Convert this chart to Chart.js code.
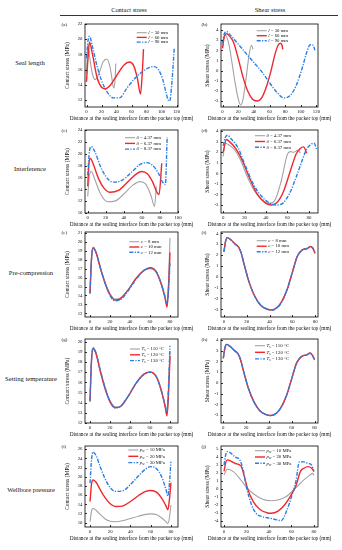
<!DOCTYPE html>
<html>
<head>
<meta charset="utf-8">
<script src="https://cdn.jsdelivr.net/npm/chart.js@4.4.0/dist/chart.umd.min.js"></script>
<style>
  body { margin: 0; background: #fff; width: 342px; height: 550px; position: relative; overflow: hidden; font-family: "Liberation Serif", serif; }
  .t { position: absolute; white-space: nowrap; color: #111; transform: translate(-50%, -50%); }
  canvas { position: absolute; }
  .rule { position: absolute; left: 60px; width: 278px; top: 15px; height: 0; border-top: 0.8px solid #333; }
</style>
</head>
<body>
<div class="t" style="left:129px;top:9px;font-size:6.4px">Contact stress</div>
<div class="t" style="left:270px;top:9px;font-size:6.4px">Shear stress</div>
<div class="rule"></div>
<div class="t" style="left:30px;top:62px;font-size:6.6px">Seal length</div>
<div class="t" style="left:30px;top:168px;font-size:6.6px">Interference</div>
<div class="t" style="left:31px;top:272px;font-size:6.6px">Pre-compression</div>
<div class="t" style="left:31px;top:378px;font-size:6.6px">Setting temperature</div>
<div class="t" style="left:31px;top:489px;font-size:6.6px">Wellbore pressure</div>

<script>
// ---- data ----
// (a) seal length, contact stress
const a30x = [0, 2, 4, 8, 12, 17, 22, 27, 31, 34, 36, 38, 39];
const a30y = [15.5, 19.3, 17.8, 15.4, 14.7, 15.6, 17.0, 17.4, 16.5, 14.8, 13.6, 14.5, 16.8];
const a60x = [0, 2, 4, 8, 14, 20, 25, 32, 40, 50, 57, 63, 68, 72, 74, 76];
const a60y = [14.4, 17.5, 19.6, 18.0, 15.0, 13.7, 13.5, 14.0, 15.2, 16.6, 17.0, 16.5, 14.8, 12.8, 15.0, 18.7];
const a90x = [0, 2, 4, 8, 14, 20, 28, 36, 44, 54, 64, 74, 84, 90, 96, 102, 106, 109, 111, 114, 117];
const a90y = [17.5, 19.8, 20.4, 19.0, 16.5, 14.6, 13.0, 12.3, 12.3, 13.6, 14.8, 15.7, 16.3, 16.4, 16.0, 14.6, 13.0, 12.0, 11.9, 14.5, 18.8];
// (b) seal length, shear stress
const b30x = [0, 2, 4, 8, 12, 16, 20, 23, 26, 30, 34, 37, 39];
const b30y = [2.3, 3.3, 3.5, 2.6, 0.8, -1.2, -2.8, -3.4, -2.9, -0.8, 1.6, 2.5, 2.1];
const b60x = [0, 2, 5, 10, 14, 20, 26, 32, 38, 44, 50, 56, 62, 67, 71, 74, 76, 77];
const b60y = [2.2, 3.3, 3.65, 3.3, 2.8, 1.2, -0.6, -2.0, -2.8, -3.0, -2.7, -1.6, 0.0, 1.6, 2.5, 2.7, 2.5, 2.1];
const b90x = [0, 2, 5, 10, 19, 30, 40, 50, 60, 70, 78, 86, 94, 102, 108, 112, 116, 118];
const b90y = [2.7, 3.6, 3.85, 3.5, 2.7, 1.7, 0.8, -0.1, -1.2, -2.2, -2.7, -2.5, -1.5, 0.3, 1.9, 2.55, 2.5, 2.0];
// (c) interference, contact stress
const c4x = [0, 2, 4, 8, 14, 22, 30, 40, 50, 58, 64, 70, 74, 76];
const c4y = [12.8, 16.5, 17.0, 15.6, 13.3, 11.9, 12.0, 13.2, 14.7, 15.3, 14.9, 13.0, 11.1, 14.5];
const c6x = [0, 1.5, 3, 6, 12, 18, 25, 34, 44, 54, 60, 66, 72, 77, 79, 82];
const c6y = [14.5, 18.5, 19.2, 18.3, 15.8, 14.2, 13.5, 13.8, 15.2, 16.6, 17.0, 16.6, 15.2, 13.4, 13.1, 18.4];
const c8x = [0, 2, 4, 8, 14, 20, 28, 38, 48, 58, 65, 72, 78, 83, 86, 88];
const c8y = [16.4, 20.5, 21.2, 20.3, 17.9, 16.2, 15.2, 15.5, 16.8, 18.2, 18.5, 18.0, 16.8, 15.2, 14.8, 22.8];
// (d) interference, shear stress
const d4x = [0, 2, 5, 10, 16, 22, 30, 38, 43, 48, 54, 60, 63, 66, 70, 72];
const d4y = [1.6, 2.85, 2.7, 2.3, 1.3, -0.2, -1.8, -2.7, -2.85, -2.6, -0.8, 1.8, 2.05, 2.0, 2.2, 1.9];
const d6x = [0, 3, 6, 12, 18, 24, 32, 40, 45, 50, 56, 62, 68, 72, 75, 78];
const d6y = [2.0, 3.2, 3.0, 2.3, 1.2, -0.3, -2.0, -2.85, -3.0, -2.8, -1.8, 0.0, 1.8, 2.35, 2.5, 1.9];
const d8x = [0, 2, 4, 8, 14, 20, 28, 36, 44, 50, 56, 62, 68, 74, 78, 82, 85, 87];
const d8y = [2.6, 3.4, 3.6, 3.2, 2.4, 0.9, -1.0, -2.2, -2.85, -3.0, -2.8, -1.9, -0.4, 1.3, 2.3, 2.75, 2.85, 2.3];
// (e) pre-compression, contact stress
const eX = [0, 1.5, 3, 6, 10, 15, 20, 25, 30, 38, 46, 54, 60, 66, 71, 75, 77, 78.5, 80];
const eY8 = [14.3, 18.2, 19.4, 18.9, 17.3, 15.5, 14.2, 13.6, 13.7, 14.6, 15.9, 16.8, 17.0, 16.6, 15.3, 13.7, 12.9, 15.5, 20.4];
const eY10 = [14.2, 18.1, 19.3, 18.8, 17.2, 15.4, 14.1, 13.5, 13.6, 14.6, 15.9, 16.8, 17.1, 16.7, 15.4, 13.8, 12.7, 14.8, 18.8];
const eY12 = [14.3, 18.0, 19.3, 18.8, 17.2, 15.4, 14.0, 13.4, 13.5, 14.5, 15.8, 16.8, 17.1, 16.7, 15.4, 13.9, 13.1, 14.6, 17.6];
// (f) pre-compression, shear stress
const fX = [0, 1.5, 3, 6, 10, 13, 15, 18, 22, 27, 32, 37, 41, 45, 50, 55, 60, 64, 67, 70, 73, 76, 78, 80];
const fY8 = [2.3, 3.3, 3.6, 3.4, 3.0, 2.7, 2.2, 1.0, -0.5, -1.8, -2.6, -2.95, -3.05, -2.95, -2.4, -1.3, 0.4, 1.8, 2.3, 2.55, 2.6, 2.78, 2.6, 2.15];
const fY10 = [2.3, 3.3, 3.6, 3.4, 3.0, 2.7, 2.2, 1.0, -0.5, -1.8, -2.6, -2.95, -3.05, -2.95, -2.4, -1.3, 0.4, 1.8, 2.3, 2.55, 2.6, 2.78, 2.6, 2.15];
const fY12 = [2.3, 3.3, 3.6, 3.4, 3.0, 2.7, 2.25, 1.05, -0.45, -1.8, -2.6, -2.95, -3.08, -3.0, -2.45, -1.3, 0.4, 1.8, 2.3, 2.5, 2.6, 2.75, 2.65, 2.15];
// (g) setting temperature, contact stress
const gX = [0, 1.5, 3, 6, 10, 15, 20, 25, 30, 38, 46, 54, 60, 66, 71, 75, 77, 78.5, 80];
const gY110 = [14.2, 18.2, 19.4, 18.9, 17.3, 15.5, 14.2, 13.6, 13.6, 14.6, 15.9, 16.8, 17.0, 16.6, 15.3, 13.7, 13.0, 15.3, 19.0];
const gY120 = [14.1, 18.1, 19.3, 18.8, 17.2, 15.4, 14.1, 13.5, 13.6, 14.6, 15.9, 16.8, 17.0, 16.6, 15.3, 13.7, 12.7, 14.8, 18.6];
const gY130 = [14.2, 18.2, 19.4, 18.9, 17.3, 15.5, 14.1, 13.5, 13.6, 14.6, 15.9, 16.8, 17.0, 16.6, 15.3, 13.8, 13.1, 15.6, 19.6];
// (h) setting temperature, shear stress
const hX = [0, 1.5, 3, 6, 10, 13, 15, 18, 22, 27, 32, 37, 41, 45, 50, 55, 60, 64, 67, 70, 73, 76, 78, 80];
const hY110 = [2.3, 3.3, 3.6, 3.4, 3.0, 2.7, 2.2, 1.0, -0.5, -1.8, -2.6, -2.95, -3.05, -2.95, -2.4, -1.3, 0.4, 1.8, 2.3, 2.55, 2.6, 2.78, 2.6, 2.15];
const hY120 = [2.3, 3.3, 3.6, 3.4, 3.0, 2.7, 2.2, 1.0, -0.5, -1.8, -2.6, -2.95, -3.05, -2.95, -2.4, -1.3, 0.4, 1.8, 2.3, 2.55, 2.6, 2.8, 2.6, 2.15];
const hY130 = [2.3, 3.3, 3.6, 3.4, 3.0, 2.7, 2.2, 1.0, -0.5, -1.8, -2.6, -2.95, -3.05, -2.95, -2.4, -1.3, 0.4, 1.8, 2.3, 2.55, 2.6, 2.75, 2.6, 2.15];
// (i) wellbore pressure, contact stress
const iX = [0, 1.5, 3, 6, 10, 15, 20, 25, 32, 40, 48, 55, 60, 66, 71, 75, 77, 78.5, 80];
const iY10 = [10.2, 12.5, 13.1, 12.7, 11.8, 10.8, 10.3, 10.2, 10.4, 10.9, 11.4, 11.8, 11.9, 11.7, 11.0, 10.2, 9.8, 11.0, 13.8];
const iY20 = [14.6, 18.5, 19.3, 18.8, 17.2, 15.4, 14.1, 13.5, 13.6, 14.6, 15.9, 16.8, 17.0, 16.6, 15.3, 13.7, 12.8, 15.0, 18.7];
const iY30 = [18.6, 23.8, 25.4, 24.6, 22.2, 19.5, 17.6, 16.8, 16.9, 18.3, 20.2, 21.7, 22.2, 21.7, 19.9, 17.3, 15.8, 18.5, 23.3];
// (j) wellbore pressure, shear stress
const j10x = [0, 3, 8, 14, 20, 28, 35, 41, 48, 55, 63, 70, 76, 79, 80];
const j10y = [1.76, 2.48, 2.2, 1.3, 0.2, -0.8, -1.35, -1.5, -1.4, -1.0, 0.0, 1.0, 1.7, 1.95, 1.7];
const j20x = [0, 1.5, 3, 6, 10, 15, 18, 21, 26, 32, 38, 42, 48, 54, 60, 64, 68, 71, 75, 78, 80];
const j20y = [2.2, 3.3, 3.65, 3.5, 3.2, 2.9, 1.6, 0.0, -1.6, -2.6, -3.0, -3.07, -2.8, -2.0, -0.7, 0.4, 2.2, 2.6, 2.8, 2.6, 2.2];
const j30x = [0, 1.5, 3, 6, 10, 14, 17, 20, 24, 28, 34, 41, 47, 51, 55, 60, 64, 67, 71, 75, 78, 80];
const j30y = [3.0, 4.3, 4.7, 4.5, 4.0, 3.65, 2.4, 0.2, -1.8, -3.0, -3.5, -3.7, -3.9, -4.0, -3.0, -1.0, 1.0, 3.4, 3.4, 3.2, 3.0, 2.2];

// legend values
const lVals = ['30', '60', '90'];
const dVals = ['4.37', '6.37', '8.37'];
const cVals = ['8', '10', '12'];
const tVals = ['110', '120', '130'];
const pVals = ['10', '20', '30'];

const F = '"Liberation Serif", "Times New Roman", serif';
const XT = 'Distance at the sealing interface from the packer top (mm)';
const GRAY = '#a3a3a3', RED = '#f0282d', BLUE = '#2a7ee8';
const DASH = [4, 1.4, 1.2, 1.4];

const lName = v => [{t: 'l', i: 1}, {t: ' = ' + v + ' mm'}];
const dName = v => [{t: 'δ', i: 1}, {t: ' = ' + v + ' mm'}];
const cName = v => [{t: 'c', i: 1}, {t: ' = ' + v + ' mm'}];
const tName = v => [{t: 'T', i: 1}, {t: 's', sub: 1}, {t: ' = ' + v + ' °C'}];
const pName = v => [{t: 'p', i: 1}, {t: 'w', sub: 1}, {t: ' = ' + v + ' MPa'}];

const pts = (xs, ys) => xs.map((x, k) => ({x: x, y: ys[k]}));

const COLS = [{cl: 60, cr: 198, pl: 85, pr: 178}, {cl: 200, cr: 340, pl: 221, pr: 318}];
const ROWS = [[24, 107], [130, 213], [232, 317], [339, 423], [446, 527]];
const CT = 'Contact stress (MPa)', ST = 'Shear stress (MPa)';
const X120 = [0, 20, 40, 60, 80, 100, 120], X100 = [0, 20, 40, 60, 80, 100], X80 = [0, 20, 40, 60, 80];

const panels = [
  {L: '(a)', c: 0, r: 0, xr: [-2, 122], xt: X120, yr: [11.1, 22], yt: [12, 14, 16, 18, 20, 22], yT: CT,
    lg: {x: 136.7, y0: 8.7, dy: 4.7}, names: lVals.map(lName), d: [pts(a30x, a30y), pts(a60x, a60y), pts(a90x, a90y)]},
  {L: '(b)', c: 1, r: 0, xr: [-2, 122], xt: X120, yr: [-3.6, 4.6], yt: [-3, -2, -1, 0, 1, 2, 3, 4], yT: ST,
    lg: {x: 256.7, y0: 6.7, dy: 5}, names: lVals.map(lName), d: [pts(b30x, b30y), pts(b60x, b60y), pts(b90x, b90y)]},
  {L: '(c)', c: 0, r: 1, xr: [-3, 100], xt: X100, yr: [10, 24], yt: [10, 12, 14, 16, 18, 20, 22, 24], yT: CT,
    lg: {x: 125, y0: 7.7, dy: 5.7}, names: dVals.map(dName), d: [pts(c4x, c4y), pts(c6x, c6y), pts(c8x, c8y)]},
  {L: '(d)', c: 1, r: 1, xr: [-2, 88.5], xt: X80, yr: [-3.76, 4.1], yt: [-3, -2, -1, 0, 1, 2, 3, 4], yT: ST,
    lg: {x: 255, y0: 5.7, dy: 5.8}, names: dVals.map(dName), d: [pts(d4x, d4y), pts(d6x, d6y), pts(d8x, d8y)]},
  {L: '(e)', c: 0, r: 2, xr: [-5, 88], xt: X80, yr: [11.6, 21.08], yt: [12, 13, 14, 15, 16, 17, 18, 19, 20, 21], yT: CT,
    lg: {x: 129.3, y0: 9.7, dy: 5.3}, names: cVals.map(cName), d: [pts(eX, eY8), pts(eX, eY10), pts(eX, eY12)]},
  {L: '(f)', c: 1, r: 2, xr: [-2.6, 82.5], xt: X80, yr: [-3.71, 4.12], yt: [-3, -2, -1, 0, 1, 2, 3, 4], yT: ST,
    lg: {x: 256.7, y0: 8.7, dy: 5.5}, names: cVals.map(cName), d: [pts(fX, fY8), pts(fX, fY10), pts(fX, fY12)]},
  {L: '(g)', c: 0, r: 3, xr: [-5, 88], xt: X80, yr: [12, 20.26], yt: [12, 13, 14, 15, 16, 17, 18, 19, 20], yT: CT,
    lg: {x: 130, y0: 10, dy: 5.8}, names: tVals.map(tName), d: [pts(gX, gY110), pts(gX, gY120), pts(gX, gY130)]},
  {L: '(h)', c: 1, r: 3, xr: [-2, 83], xt: X80, yr: [-3.75, 4.1], yt: [-3, -2, -1, 0, 1, 2, 3, 4], yT: ST,
    lg: {x: 255, y0: 6.7, dy: 6.6}, names: tVals.map(tName), d: [pts(hX, hY110), pts(hX, hY120), pts(hX, hY130)]},
  {L: '(i)', c: 0, r: 4, xr: [-5, 87], xt: X80, yr: [9.04, 26.7], yt: [10, 12, 14, 16, 18, 20, 22, 24, 26], yT: CT,
    lg: {x: 128.3, y0: 4, dy: 6.3}, names: pVals.map(pName), d: [pts(iX, iY10), pts(iX, iY20), pts(iX, iY30)]},
  {L: '(j)', c: 1, r: 4, xr: [-2.7, 83.6], xt: X80, yr: [-4.8, 5.4], yt: [-4, -3, -2, -1, 0, 1, 2, 3, 4, 5], yT: ST,
    lg: {x: 255, y0: 4.7, dy: 6.3}, names: pVals.map(pName), d: [pts(j10x, j10y), pts(j20x, j20y), pts(j30x, j30y)]}
];

function rich(ctx, parts, x, y, size) {
  parts.forEach(p => {
    const s = p.sub ? size * 0.7 : size;
    ctx.font = (p.i ? 'italic ' : '') + s + 'px ' + F;
    ctx.fillText(p.t, x, p.sub ? y + size * 0.3 : y);
    x += ctx.measureText(p.t).width;
  });
}

panels.forEach(p => {
  const col = COLS[p.c], row = ROWS[p.r];
  const top = row[0] - 6, bottom = row[1] + 17;
  const cv = document.createElement('canvas');
  cv.width = col.cr - col.cl; cv.height = bottom - top;
  cv.style.left = col.cl + 'px'; cv.style.top = top + 'px';
  document.body.appendChild(cv);

  const styles = [
    {borderColor: GRAY, borderWidth: 1.1, order: 3},
    {borderColor: RED, borderWidth: 1.4, order: 2},
    {borderColor: BLUE, borderWidth: 1.4, borderDash: DASH, order: 1}
  ];

  const deco = {
    id: 'deco',
    afterDraw(chart) {
      const {ctx, chartArea: a, scales} = chart;
      ctx.save();
      ctx.strokeStyle = '#000'; ctx.lineWidth = 0.8;
      ctx.strokeRect(a.left, a.top, a.right - a.left, a.bottom - a.top);
      ctx.beginPath();
      scales.x.ticks.forEach(t => { const v = Math.round(scales.x.getPixelForValue(t.value)) + 0.5; ctx.moveTo(v, a.bottom); ctx.lineTo(v, a.bottom - 2); });
      scales.y.ticks.forEach(t => { const v = Math.round(scales.y.getPixelForValue(t.value)) + 0.5; ctx.moveTo(a.left, v); ctx.lineTo(a.left + 2, v); });
      ctx.stroke();
      ctx.fillStyle = '#111';
      ctx.textBaseline = 'middle';
      ctx.font = '5px ' + F;
      ctx.fillText(p.L, 1.5, a.top + 1);
      ctx.textAlign = 'center';
      ctx.font = '5.3px ' + F;
      ctx.fillText(XT, (a.left + a.right) / 2, a.bottom + 12);
      ctx.textAlign = 'left';
      const lx = p.lg.x - col.cl;
      styles.forEach((s, k) => {
        const y = a.top + p.lg.y0 + k * p.lg.dy;
        ctx.strokeStyle = s.borderColor; ctx.lineWidth = s.borderWidth;
        ctx.setLineDash(s.borderDash || []);
        ctx.beginPath(); ctx.moveTo(lx, y); ctx.lineTo(lx + 10, y); ctx.stroke();
        ctx.setLineDash([]);
        rich(ctx, p.names[k], lx + 11.5, y, 4.8);
      });
      ctx.restore();
    }
  };

  new Chart(cv, {
    type: 'line',
    data: {datasets: p.d.map((d, k) => Object.assign({data: d, pointRadius: 0, fill: false}, styles[k]))},
    options: {
      responsive: false, animation: false, events: [],
      layout: {padding: {top: 6, right: col.cr - col.pr, left: 0, bottom: 0}},
      plugins: {legend: {display: false}, tooltip: {enabled: false}},
      elements: {line: {cubicInterpolationMode: 'monotone'}},
      scales: {
        x: {
          type: 'linear', min: p.xr[0], max: p.xr[1],
          grid: {display: false, drawTicks: false}, border: {display: false},
          afterBuildTicks: s => { s.ticks = p.xt.map(v => ({value: v})); },
          afterFit: s => { s.height = 17; },
          ticks: {font: {family: F, size: 4.8}, color: '#111', padding: 2, maxRotation: 0, autoSkip: false}
        },
        y: {
          type: 'linear', min: p.yr[0], max: p.yr[1],
          grid: {display: false, drawTicks: false}, border: {display: false},
          afterBuildTicks: s => { s.ticks = p.yt.map(v => ({value: v})); },
          afterFit: s => { s.width = col.pl - col.cl; },
          ticks: {font: {family: F, size: 4.8}, color: '#111', padding: 2.5, autoSkip: false},
          title: {display: true, text: p.yT, color: '#111', font: {family: F, size: 5.6}, padding: {top: 4, bottom: 0}}
        }
      }
    },
    plugins: [deco]
  });
});
</script>
</body>
</html>
